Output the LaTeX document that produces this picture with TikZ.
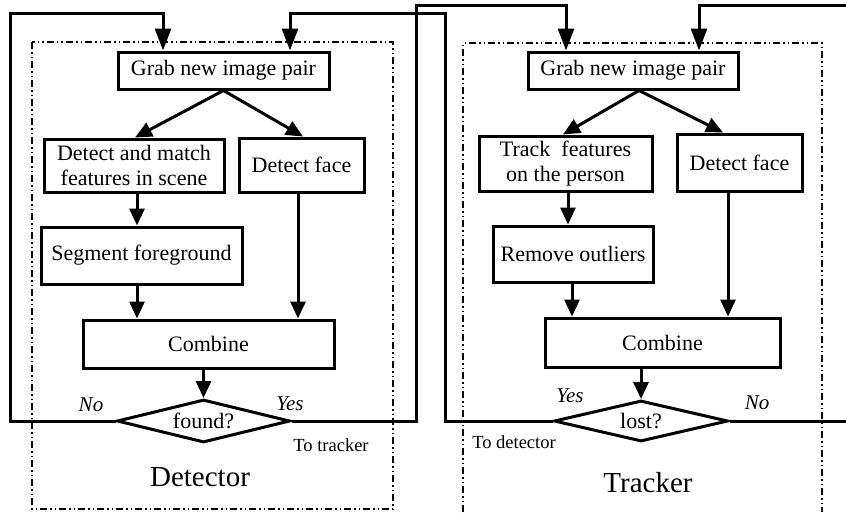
\documentclass[tikz,border=0pt]{standalone}
\usepackage{fontspec}
\setmainfont{Liberation Serif}
\usetikzlibrary{arrows.meta,shapes.geometric}
\tikzset{
  box/.style={draw, line width=3pt, inner sep=0pt, font=\fontsize{22}{25}\selectfont, align=center},
  decision/.style={draw, diamond, line width=3pt, inner sep=0pt, aspect=4, font=\fontsize{22}{25}\selectfont},
  arr/.style={line width=3pt, -{Triangle[length=17pt,width=15pt]}},
  looparr/.style={line width=3pt, -{Triangle[length=22pt,width=16pt]}},
  loopline/.style={line width=3pt},
  frame/.style={line width=1.5pt, dash pattern=on 7pt off 3pt on 1.5pt off 3pt on 1.5pt off 3pt},
  yn/.style={font=\fontsize{21}{24}\selectfont\itshape, inner sep=0pt},
  small/.style={font=\fontsize{18.5}{22}\selectfont, inner sep=0pt},
  title/.style={font=\fontsize{29}{32}\selectfont, inner sep=0pt}
}
\begin{document}
\begin{tikzpicture}[x=1pt,y=-1pt]
\useasboundingbox (0,0) rectangle (846,512);
% frames
\draw[frame] (32,42) rectangle (393,509);
\draw[frame] (463,512) -- (463,43) -- (822,43) -- (822,512);

% Detector
\node[box, minimum width=211pt, minimum height=37pt] (g1) at (223.5,70.5) {Grab new image pair};
\node[box, minimum width=180pt, minimum height=53pt] (m1) at (134,165.5) {Detect and match\\features in scene};
\node[box, minimum width=125pt, minimum height=54pt] (f1) at (301.5,165) {Detect face};
\node[box, minimum width=201pt, minimum height=57pt] (s1) at (141.5,255.5) {Segment foreground};
\node[box, minimum width=251pt, minimum height=48pt] (c1) at (208.5,344) {Combine};
\node[decision, minimum width=173pt, minimum height=43pt] (d1) at (203.5,421) {found?};

% Tracker
\node[box, minimum width=210pt, minimum height=37pt] (g2) at (633,70.5) {Grab new image pair};
\node[box, minimum width=173pt, minimum height=55pt] (m2) at (565.5,163.5) {Track\ \ features\\on the person};
\node[box, minimum width=125pt, minimum height=57pt] (f2) at (739.5,162.5) {Detect face};
\node[box, minimum width=160pt, minimum height=56pt] (s2) at (573,254) {Remove outliers};
\node[box, minimum width=235pt, minimum height=49pt] (c2) at (662.5,342.5) {Combine};
\node[decision, minimum width=174pt, minimum height=41pt] (d2) at (641,421) {lost?};

% labels
\node[yn] (no1) at (91,405) {No};
\node[yn] (yes1) at (290,404) {Yes};
\node[small] (tt) at (331,445) {To tracker};
\node[title] (det) at (200,477) {Detector};
\node[yn] (yes2) at (570,396) {Yes};
\node[yn] (no2) at (757,403) {No};
\node[small] (td) at (514,442) {To detector};
\node[title] (trk) at (648,483) {Tracker};

% detector arrows
\draw[arr] (g1.south) -- ([xshift=1pt]m1.north);
\draw[arr] (g1.south) -- ([xshift=1.5pt]f1.north);
\draw[arr] ([xshift=3pt]m1.south) -- ([xshift=3pt]m1.south |- s1.north);
\draw[arr] ([xshift=-4.5pt]s1.south) -- ([xshift=-4.5pt]s1.south |- c1.north);
\draw[arr] ([xshift=-3.5pt]f1.south) -- ([xshift=-3.5pt]f1.south |- c1.north);
\draw[arr] (c1.south -| d1.north) -- (d1.north);

% tracker arrows
\draw[arr] ([xshift=6pt]g2.south) -- ([xshift=-2.5pt]m2.north);
\draw[arr] ([xshift=6pt]g2.south) -- ([xshift=-16.5pt]f2.north);
\draw[arr] ([xshift=2.5pt]m2.south) -- ([xshift=2.5pt]m2.south |- s2.north);
\draw[arr] ([xshift=-1pt]s2.south) -- ([xshift=-1pt]s2.south |- c2.north);
\draw[arr] ([xshift=-11.5pt]f2.south) -- ([xshift=-11.5pt]f2.south |- c2.north);
\draw[arr] (c2.south -| d2.north) -- (d2.north);

% loops
\coordinate (lA) at (10,13);
\coordinate (lB) at (416,5);
\coordinate (lC) at (445,13);
\coordinate (rA) at (846,421);
\coordinate (rB) at (846,5);
\draw[looparr] (d1.west) -| (lA) -| ([xshift=-60.5pt]g1.north);
\draw[looparr] (d1.east) -| (lB) -| ([xshift=-67pt]g2.north);
\draw[looparr] (d2.west) -| (lC) -| ([xshift=66.5pt]g1.north);
\draw[loopline] (d2.east) -- (rA);
\draw[looparr] (rB) -| ([xshift=66pt]g2.north);
\end{tikzpicture}
\end{document}
